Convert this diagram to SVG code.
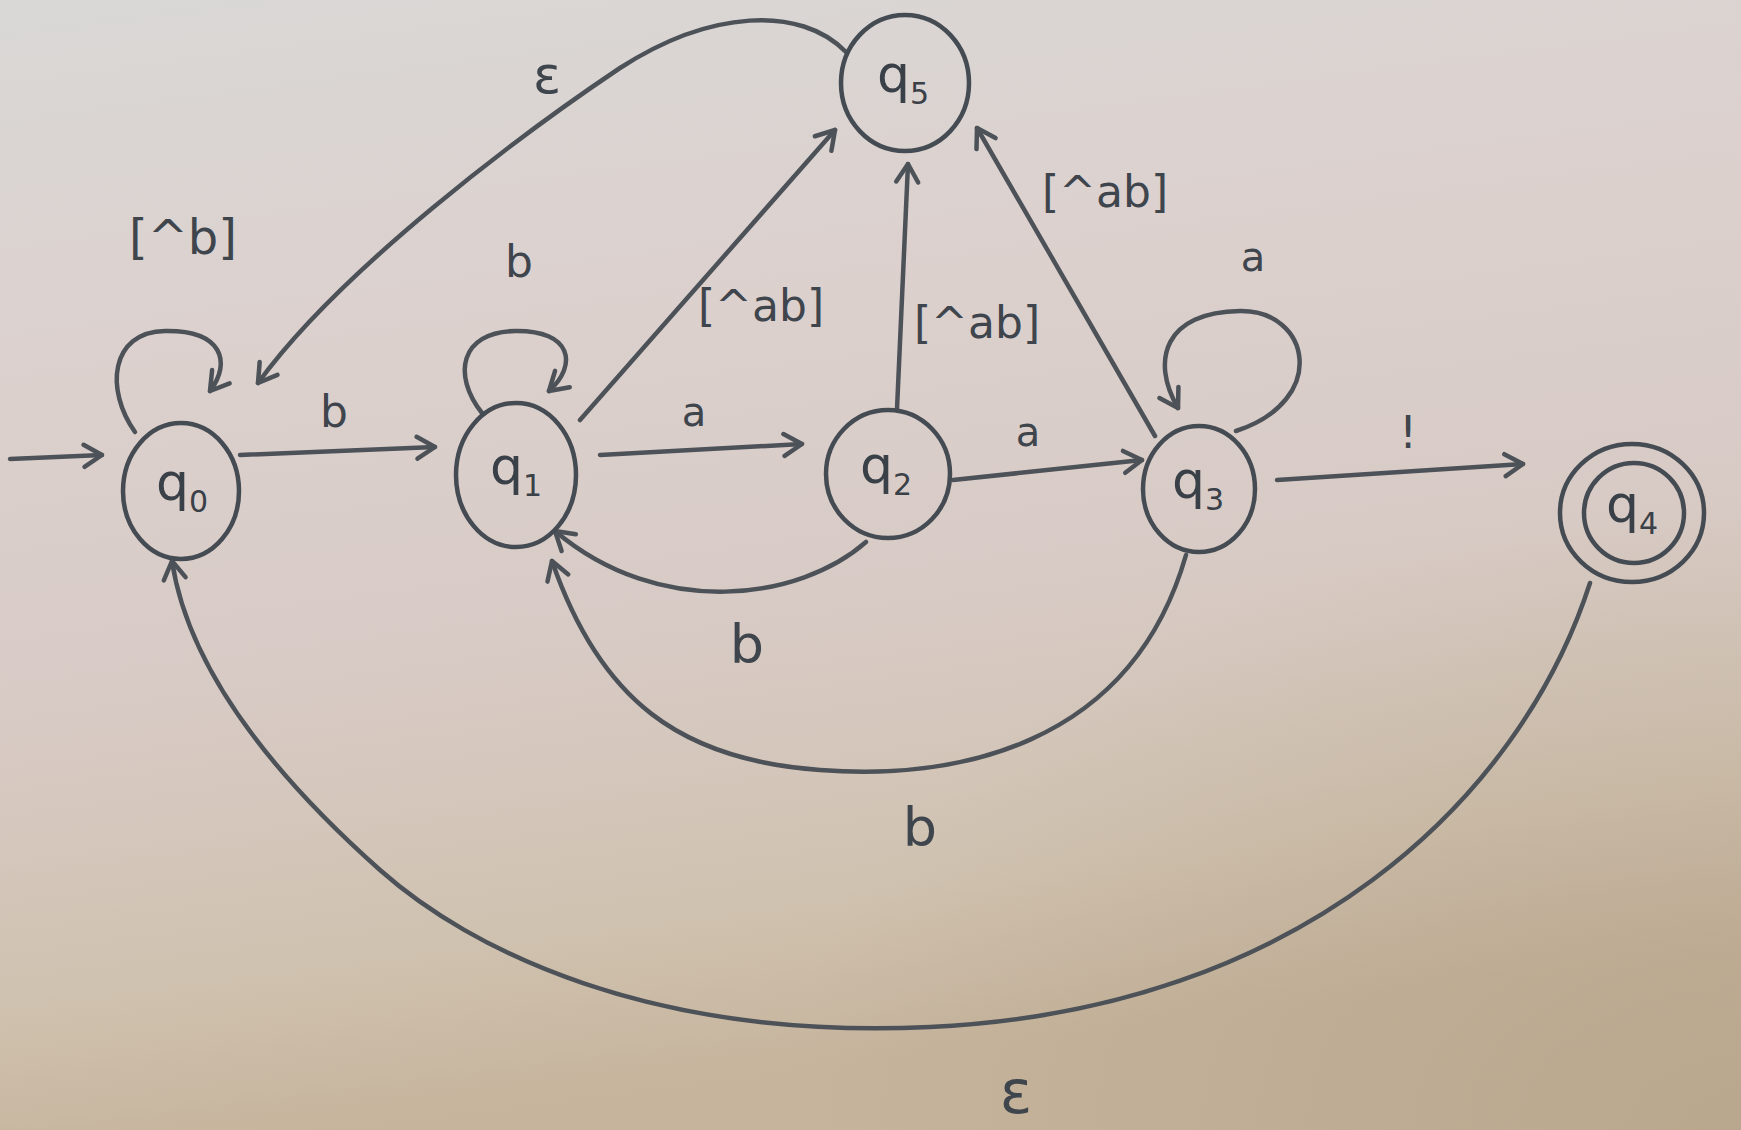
<svg xmlns="http://www.w3.org/2000/svg" width="1741" height="1130" viewBox="0 0 1741 1130">
<style>
.st{fill:none;stroke:#4c5258;stroke-width:4.5;stroke-linecap:round;stroke-linejoin:round}
.nd{fill:none;stroke:#454b52;stroke-width:4.5}
.lb{font-family:"DejaVu Sans",sans-serif;fill:#3f454c;text-anchor:middle;dominant-baseline:central}
.ql{font-family:"DejaVu Sans",sans-serif;fill:#3a4047;font-size:52px}
.sub{font-size:30px}
</style>
<defs>
<linearGradient id="paper" x1="0" y1="0" x2="0.2" y2="1">
<stop offset="0" stop-color="#d9d8d6"/>
<stop offset="0.3" stop-color="#dcd1ce"/>
<stop offset="0.6" stop-color="#d8cbc6"/>
<stop offset="0.85" stop-color="#d0c2b0"/>
<stop offset="1" stop-color="#c6b49c"/>
</linearGradient>
<radialGradient id="shade" cx="1" cy="1" r="0.55">
<stop offset="0" stop-color="#ad9980" stop-opacity="0.5"/>
<stop offset="1" stop-color="#ad9980" stop-opacity="0"/>
</radialGradient>
<marker id="ah" viewBox="-22 -14 26 28" refX="0" refY="0" markerWidth="26" markerHeight="28" markerUnits="userSpaceOnUse" orient="auto">
<path d="M-18,-11 L0,0 L-18,11" fill="none" stroke="#4c5258" stroke-width="4.5" stroke-linecap="round" stroke-linejoin="round"/>
</marker>
</defs>
<rect width="1741" height="1130" fill="url(#paper)"/>
<rect width="1741" height="1130" fill="url(#shade)"/>

<g id="edges">
<path id="e-start" class="st" marker-end="url(#ah)" d="M10,459 L102,455"/>
<path id="e-q0-q0" class="st" marker-end="url(#ah)" d="M135,432 C105,390 110,332 165,331 C222,330 232,362 210,391"/>
<path id="e-q0-q1" class="st" marker-end="url(#ah)" d="M240,455 L435,447"/>
<path id="e-q5-q0" class="st" marker-end="url(#ah)" d="M846,52 C800,5 710,10 620,68 C520,135 340,270 258,383"/>
<path id="e-q1-q1" class="st" marker-end="url(#ah)" d="M482,413 C452,375 460,332 515,331 C572,330 578,365 549,391"/>
<path id="e-q1-q5" class="st" marker-end="url(#ah)" d="M580,420 L835,130"/>
<path id="e-q1-q2" class="st" marker-end="url(#ah)" d="M600,455 L802,444"/>
<path id="e-q2-q5" class="st" marker-end="url(#ah)" d="M897,409 L908,164"/>
<path id="e-q2-q3" class="st" marker-end="url(#ah)" d="M953,480 L1142,460"/>
<path id="e-q3-q5" class="st" marker-end="url(#ah)" d="M1155,436 L977,128"/>
<path id="e-q3-q3" class="st" marker-end="url(#ah)" d="M1236,431 C1330,400 1310,310 1240,311 C1165,312 1150,360 1178,408"/>
<path id="e-q3-q4" class="st" marker-end="url(#ah)" d="M1277,480 L1523,464"/>
<path id="e-q2-q1" class="st" marker-end="url(#ah)" d="M866,542 C800,600 660,620 555,531"/>
<path id="e-q3-q1" class="st" marker-end="url(#ah)" d="M1186,555 C1130,750 950,780 820,770 C680,760 600,700 552,561"/>
<path id="e-q4-q0" class="st" marker-end="url(#ah)" d="M1590,583 C1520,800 1300,1010 930,1027 C650,1040 470,950 380,870 C290,790 190,680 172,561"/>
</g>

<g id="labels">
<text class="lb" x="183" y="237" font-size="48">[^b]</text>
<text class="lb" x="334" y="411" font-size="44">b</text>
<text class="lb" x="547" y="75" font-size="52">ε</text>
<text class="lb" x="519" y="261" font-size="44">b</text>
<text class="lb" x="761" y="305" font-size="44">[^ab]</text>
<text class="lb" x="694" y="412" font-size="40">a</text>
<text class="lb" x="977" y="322" font-size="44">[^ab]</text>
<text class="lb" x="1105" y="191" font-size="44">[^ab]</text>
<text class="lb" x="1253" y="257" font-size="40">a</text>
<text class="lb" x="1028" y="432" font-size="40">a</text>
<text class="lb" x="1408" y="432" font-size="44">!</text>
<text class="lb" x="747" y="644" font-size="54">b</text>
<text class="lb" x="920" y="827" font-size="54">b</text>
<text class="lb" x="1016" y="1092" font-size="60">ε</text>
</g>

<g id="q0"><ellipse class="nd" cx="181" cy="491" rx="58" ry="68"/><text class="ql" x="156" y="500">q<tspan class="sub" dy="12">0</tspan></text></g>
<g id="q1"><ellipse class="nd" cx="516" cy="475" rx="60" ry="72"/><text class="ql" x="490" y="484">q<tspan class="sub" dy="12">1</tspan></text></g>
<g id="q2"><ellipse class="nd" cx="888" cy="474" rx="62" ry="64"/><text class="ql" x="860" y="483">q<tspan class="sub" dy="12">2</tspan></text></g>
<g id="q3"><ellipse class="nd" cx="1199" cy="489" rx="56" ry="63"/><text class="ql" x="1172" y="498">q<tspan class="sub" dy="12">3</tspan></text></g>
<g id="q4"><ellipse class="nd" cx="1632" cy="513" rx="72" ry="69"/><ellipse class="nd" cx="1634" cy="513" rx="50" ry="50"/><text class="ql" x="1606" y="522">q<tspan class="sub" dy="12">4</tspan></text></g>
<g id="q5"><ellipse class="nd" cx="905" cy="83" rx="64" ry="68"/><text class="ql" x="877" y="92">q<tspan class="sub" dy="12">5</tspan></text></g>
</svg>
